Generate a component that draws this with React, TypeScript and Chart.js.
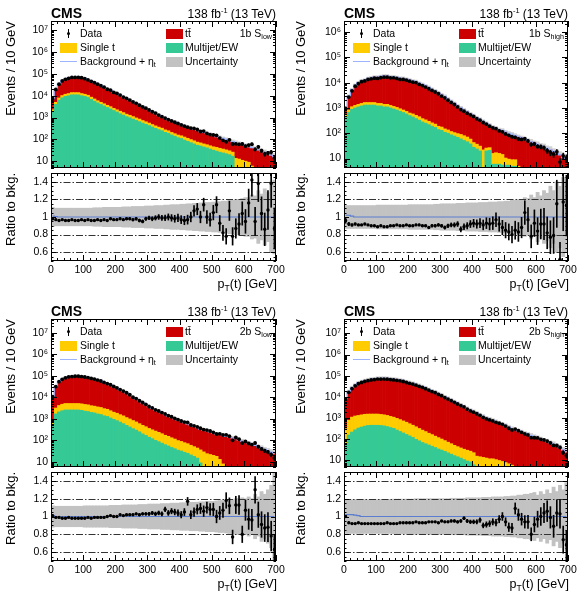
import React, { useEffect, useRef } from "react";
import { Chart, registerables } from "chart.js";

Chart.register(...registerables);

const FONT = '"Liberation Sans", Arial, Helvetica, sans-serif';
Chart.defaults.font.family = FONT;
Chart.defaults.color = "#000";

// ---------- categories / ticks ----------
const binCenters = [
  5, 15, 25, 35, 45, 55, 65, 75, 85, 95,
  105, 115, 125, 135, 145, 155, 165, 175, 185, 195,
  205, 215, 225, 235, 245, 255, 265, 275, 285, 295,
  305, 315, 325, 335, 345, 355, 365, 375, 385, 395,
  405, 415, 425, 435, 445, 455, 465, 475, 485, 495,
  505, 515, 525, 535, 545, 555, 565, 575, 585, 595,
  605, 615, 625, 635, 645, 655, 665, 675, 685, 695,
];
const xTickValues = [0, 100, 200, 300, 400, 500, 600, 700];
const logTickValues = [10, 100, 1000, 10000, 100000, 1000000, 10000000];
const ratioTickValues = [0.6, 0.8, 1, 1.2, 1.4];
const ratioDashValues = [0.6, 0.8, 1.2, 1.4];

// ---------- 1b S_low ----------
const multijetTL = [
  1800, 4000, 6300, 8100, 9300, 10000, 11000, 11000, 11000, 10000,
  9300, 8300, 6800, 5600, 4700, 4000, 3400, 2900, 2500, 2100,
  1800, 1500, 1300, 1100, 980, 850, 740, 650, 560, 490,
  430, 370, 320, 280, 250, 210, 190, 160, 140, 120,
  110, 93, 81, 71, 62, 54, 50, 45, 41, 36,
  32, 29, 26, 24, 22, 20, 17, 3.5, 2.5, null,
  null, null, null, null, null, null, null, null, null, null,
];
const singleTopTL = [
  470, 1000, 1600, 2100, 2400, 2600, 2900, 2900, 2900, 2600,
  2400, 2200, 1800, 1500, 1200, 1000, 880, 750, 650, 550,
  470, 450, 390, 330, 290, 260, 220, 200, 170, 150,
  130, 110, 96, 84, 75, 63, 57, 48, 42, 38,
  36, 35, 31, 27, 24, 21, 19, 17, 16, 15,
  14, 14, 13, 12, 11, 10, 9, 10, 10, 11,
  10, 9, 6, 4, 3, null, null, null, null, null,
];
const ttbarTL = [
  4900, 15000, 27000, 39000, 47000, 53000, 57000, 58000, 58000, 56000,
  51000, 44000, 39000, 34000, 29000, 25000, 21000, 17000, 15000, 12000,
  11000, 9000, 7200, 6200, 5200, 4300, 3600, 3000, 2500, 2100,
  1700, 1400, 1200, 940, 780, 680, 560, 500, 440, 380,
  330, 290, 260, 230, 210, 185, 160, 148, 133, 120,
  106, 92, 84, 74, 67, 59, 53, 58, 52, 48,
  42, 38, 36, 33, 30, 29, 25, 22, 19, 16,
];
const ratioTL = [
  0.98, 0.97, 0.96, 0.97, 0.96, 0.96, 0.97, 0.96, 0.96, 0.97,
  0.96, 0.97, 0.96, 0.96, 0.97, 0.96, 0.97, 0.96, 0.98, 0.97,
  0.97, 0.98, 0.97, 0.98, 0.98, 0.97, 0.98, 0.96, 0.95, 0.98,
  0.99, 0.98, 0.99, 1.0, 0.99, 0.99, 1.0, 0.99, 0.98, 0.99,
  0.97, 0.96, 0.97, 1.0, 1.07, 1.09, 1.0, 1.14, 1.0, 0.97,
  1.05, 1.14, 0.93, 0.82, 0.78, 1.07, 0.78, 0.87, 0.92, 1.04,
  0.95, 1.16, 1.42, 0.95, 1.38, 1.04, 0.86, 1.08, 1.38, 0.87,
];
const uncTL = [
  0.11, 0.1, 0.1, 0.1, 0.1, 0.1, 0.1, 0.1, 0.1, 0.1,
  0.1, 0.1, 0.1, 0.105, 0.105, 0.105, 0.11, 0.11, 0.11, 0.11,
  0.11, 0.11, 0.115, 0.115, 0.115, 0.12, 0.12, 0.12, 0.12, 0.125,
  0.125, 0.125, 0.13, 0.13, 0.13, 0.135, 0.135, 0.14, 0.14, 0.14,
  0.145, 0.145, 0.15, 0.15, 0.155, 0.155, 0.16, 0.16, 0.165, 0.165,
  0.17, 0.17, 0.175, 0.18, 0.18, 0.19, 0.19, 0.2, 0.2, 0.21,
  0.22, 0.22, 0.25, 0.24, 0.3, 0.26, 0.32, 0.28, 0.4, 0.42,
];
const etaTL = [
  1.01, 1.005, 1, 1, 1, 1, 1, 1, 1, 1,
  1, 1, 1, 1, 1, 1, 1, 1, 1, 1,
  1, 1, 1, 1, 1, 1, 1, 1, 1, 1,
  1, 1, 1, 1, 1, 1, 1, 1, 1, 1,
  1, 1, 1, 1, 1, 1, 1, 1, 1, 1,
  1, 1, 1, 1, 1, 1, 1, 1, 1, 1,
  1, 1, 1, 1, 1, 1, 1, 1, 1, 1,
];

// ---------- 1b S_high ----------
const multijetTR = [
  420, 660, 890, 1000, 1100, 1200, 1300, 1300, 1300, 1300,
  1200, 1200, 1100, 1100, 1000, 910, 830, 740, 660, 580,
  500, 440, 380, 330, 280, 250, 220, 190, 170, 140,
  130, 110, 100, 87, 78, 69, 60, 52, 46, 38,
  28, 24, 20, 3, 20, 21, 6, 6, 6, 5.5,
  5.5, 5.5, 5, 5, null, null, null, null, null, null,
  null, null, null, null, null, null, null, null, null, null,
];
const singleTopTR = [
  110, 170, 230, 260, 290, 310, 340, 340, 340, 340,
  310, 310, 290, 290, 260, 240, 220, 190, 170, 150,
  130, 140, 130, 120, 98, 88, 77, 67, 60, 49,
  46, 39, 35, 30, 28, 28, 30, 28, 25, 21,
  15, 13, 11, 19, 6, 6, 10, 11, 10, 9,
  5, 4, 4, 4, 5, 3, null, null, null, null,
  null, null, null, null, null, null, null, null, null, null,
];
const ttbarTR = [
  470, 2100, 4100, 6600, 8600, 10500, 11000, 13000, 14000, 15000,
  15000, 16000, 17000, 17000, 16000, 16000, 15000, 14000, 14000, 13000,
  12000, 11000, 10500, 9000, 8100, 7100, 6200, 5200, 4500, 3800,
  3100, 2700, 2100, 1700, 1400, 1100, 910, 750, 620, 520,
  450, 370, 320, 270, 220, 180, 160, 140, 120, 115,
  100, 90, 82, 72, 67, 62, 58, 51, 46, 41,
  36, 32, 29, 25, 22, 19, 16, 14, 11, 9.5,
];
const ratioTR = [
  0.96, 0.92, 0.91, 0.92, 0.91, 0.91, 0.92, 0.91, 0.9, 0.9,
  0.89, 0.9, 0.89, 0.89, 0.9, 0.9, 0.91, 0.9, 0.9, 0.91,
  0.9, 0.9, 0.91, 0.91, 0.9, 0.9, 0.88, 0.9, 0.9, 0.91,
  0.9, 0.88, 0.9, 0.91, 0.91, 0.92, 0.86, 0.89, 0.9, 0.92,
  0.93, 0.92, 0.93, 0.91, 0.93, 0.92, 0.93, 0.97, 0.92, 0.88,
  0.85, 0.83, 0.8, 0.85, 0.83, 0.88, 1.05, 0.97, 0.78, 0.93,
  0.84, 0.92, 0.92, 0.82, 0.77, 0.79, 1.15, 0.52, 1.17, 1.13,
];
const uncTR = [
  0.13, 0.13, 0.13, 0.13, 0.13, 0.13, 0.13, 0.13, 0.13, 0.13,
  0.135, 0.135, 0.135, 0.135, 0.135, 0.135, 0.135, 0.135, 0.135, 0.135,
  0.14, 0.14, 0.14, 0.14, 0.14, 0.14, 0.14, 0.14, 0.145, 0.145,
  0.15, 0.15, 0.15, 0.15, 0.15, 0.155, 0.155, 0.155, 0.16, 0.16,
  0.16, 0.16, 0.165, 0.165, 0.165, 0.17, 0.17, 0.17, 0.175, 0.175,
  0.18, 0.18, 0.19, 0.19, 0.2, 0.2, 0.22, 0.21, 0.25, 0.22,
  0.28, 0.24, 0.3, 0.27, 0.35, 0.3, 0.4, 0.35, 0.45, 0.4,
];
const etaTR = [
  1.02, 1.02, 1.01, 1, 1, 1, 1, 1, 1, 1,
  1, 1, 1, 1, 1, 1, 1, 1, 1, 1,
  1, 1, 1, 1, 1, 1, 1, 1, 1, 1,
  1, 1, 1, 1, 1, 1, 1, 1, 1, 1,
  1, 1, 1, 1, 1, 1, 1, 1, 1, 1,
  1, 1, 1, 1, 1, 1, 1, 1, 1, 1,
  1, 1, 1, 1, 1, 1, 1, 1, 1, 1,
];

// ---------- 2b S_low ----------
const multijetBL = [
  490, 1700, 2100, 2400, 2600, 2600, 2600, 2600, 2600, 2500,
  2300, 2200, 2000, 1900, 1700, 1600, 1400, 1300, 1100, 950,
  830, 710, 600, 500, 420, 350, 300, 250, 200, 170,
  140, 120, 100, 87, 74, 63, 55, 47, 41, 35,
  32, 28, 25, 21, 18, 15, 9, 3, null, null,
  null, null, null, null, null, null, null, null, null, null,
  null, null, null, null, null, null, null, null, null, null,
];
const singleTopBL = [
  340, 1500, 2100, 2400, 2600, 2600, 2600, 2600, 2600, 2500,
  2400, 2300, 2100, 2000, 1900, 1800, 1600, 1500, 1300, 1100,
  1000, 860, 780, 650, 570, 490, 420, 350, 300, 260,
  220, 190, 170, 150, 130, 110, 99, 85, 74, 63,
  57, 50, 45, 38, 33, 29, 27, 26, 24, 22,
  20, 18, 13, 8, 4, null, null, null, null, null,
  null, null, null, null, null, null, null, null, null, null,
];
const ttbarBL = [
  10000, 29000, 50000, 66000, 78000, 86000, 90000, 93000, 93000, 90000,
  86000, 80000, 74000, 67000, 61000, 55000, 47000, 41000, 36000, 30000,
  26000, 21000, 18000, 15000, 12000, 9200, 7800, 6300, 5100, 4200,
  3300, 2800, 2300, 2000, 1700, 1400, 1200, 1050, 890, 790,
  690, 600, 520, 450, 400, 350, 300, 270, 250, 230,
  200, 180, 180, 160, 150, 140, 130, 120, 100, 93,
  83, 74, 66, 58, 50, 44, 38, 33, 28, 24,
];
const ratioBL = [
  1.01, 0.99, 0.99, 0.98, 0.98, 0.99, 0.98, 0.98, 0.98, 0.98,
  0.98, 0.99, 0.98, 0.99, 0.99, 0.99, 0.99, 1.0, 1.01, 1.0,
  1.0, 1.02, 1.01, 1.02, 1.02, 1.02, 1.03, 1.02, 1.03, 1.03,
  1.03, 1.04, 1.03, 1.04, 1.03, 1.08, 1.04, 1.06, 1.05, 1.04,
  1.02, 1.05, 1.17, 1.02, 1.05, 1.08, 1.09, 1.06, 1.1, 1.08,
  1.08, 1.0, 1.04, 1.07, 1.18, 1.12, 0.77, 1.13, 1.13, 0.8,
  1.07, 0.97, 0.96, 1.3, 1.02, 0.91, 0.87, 0.88, 0.78, 0.63,
];
const uncBL = [
  0.12, 0.115, 0.115, 0.115, 0.115, 0.115, 0.115, 0.115, 0.115, 0.115,
  0.12, 0.12, 0.12, 0.12, 0.12, 0.12, 0.12, 0.12, 0.125, 0.125,
  0.125, 0.125, 0.13, 0.13, 0.13, 0.13, 0.13, 0.135, 0.135, 0.135,
  0.14, 0.14, 0.14, 0.14, 0.145, 0.145, 0.145, 0.15, 0.15, 0.15,
  0.155, 0.155, 0.155, 0.16, 0.16, 0.16, 0.165, 0.165, 0.17, 0.17,
  0.17, 0.175, 0.18, 0.18, 0.185, 0.19, 0.19, 0.2, 0.2, 0.21,
  0.2, 0.22, 0.2, 0.25, 0.22, 0.28, 0.25, 0.3, 0.35, 0.5,
];
const etaBL = [
  1.01, 1, 1, 1, 1, 1, 1, 1, 1, 1,
  1, 1, 1, 1, 1, 1, 1, 1, 1, 1,
  1, 1, 1, 1, 1, 1, 1, 1, 1, 1,
  1, 1, 1, 1, 1, 1, 1, 1, 1, 1,
  1, 1, 1, 1, 1, 1, 1, 1, 1, 1,
  1, 1, 1, 1, 1, 1, 1, 1, 1, 1,
  1, 1, 1, 1, 1, 1, 1, 1, 1, 1,
];

// ---------- 2b S_high ----------
const multijetBR = [
  65, 160, 220, 280, 340, 380, 420, 450, 460, 460,
  460, 450, 430, 400, 360, 330, 275, 234, 200, 170,
  145, 123, 100, 85, 71, 62, 54, 47, 41, 35,
  31, 27, 23, 20, 17, 15, 13, 11, 9.5, 8.5,
  6.3, null, null, null, null, null, null, null, null, null,
  null, null, null, null, null, null, null, null, null, null,
  null, null, null, null, null, null, null, null, null, null,
];
const singleTopBR = [
  250, 630, 900, 980, 1000, 1050, 1100, 1100, 1100, 1100,
  1100, 1050, 1000, 940, 850, 780, 700, 620, 540, 470,
  400, 340, 290, 240, 200, 170, 140, 120, 100, 85,
  72, 60, 50, 42, 35, 30, 26, 23, 21, 19,
  17, 16, 15, 14, 13, 12, 12, 11, 10, 9,
  8, 7, 6, 5, 4, null, null, null, null, null,
  null, null, null, null, null, null, null, null, null, null,
];
const ttbarBR = [
  7600, 17000, 26000, 35000, 44000, 51000, 57000, 63000, 67000, 70000,
  74000, 74500, 74500, 73000, 71000, 68000, 65000, 61000, 57000, 51000,
  47000, 43000, 38000, 34000, 30000, 26000, 22000, 19000, 17000, 14000,
  12000, 9900, 8400, 7000, 5800, 4900, 4100, 3400, 2800, 2300,
  2000, 1700, 1400, 1200, 990, 880, 770, 670, 580, 500,
  440, 370, 310, 275, 246, 220, 190, 170, 150, 130,
  120, 100, 89, 78, 68, 58, 49, 40, 32, 25,
];
const ratioBR = [
  1.0, 0.93, 0.92, 0.92, 0.93, 0.92, 0.92, 0.92, 0.92, 0.92,
  0.92, 0.92, 0.92, 0.93, 0.92, 0.92, 0.92, 0.93, 0.93, 0.93,
  0.93, 0.93, 0.94, 0.93, 0.93, 0.93, 0.94, 0.94, 0.94, 0.93,
  0.95, 0.94, 0.94, 0.95, 0.95, 0.94, 0.95, 0.98, 0.95, 0.94,
  0.94, 0.94, 0.96, 0.9, 0.91, 0.92, 0.94, 0.93, 0.97, 1.0,
  0.94, 0.88, 0.87, 1.09, 1.02, 0.97, 0.94, 0.94, 0.8, 0.91,
  0.97, 1.0, 1.04, 1.06, 0.99, 0.89, 1.04, 1.03, 0.74, 0.68,
];
const uncBR = [
  0.19, 0.19, 0.19, 0.19, 0.19, 0.19, 0.19, 0.19, 0.19, 0.19,
  0.19, 0.19, 0.19, 0.19, 0.19, 0.195, 0.195, 0.195, 0.195, 0.195,
  0.195, 0.195, 0.2, 0.2, 0.2, 0.2, 0.2, 0.2, 0.2, 0.2,
  0.2, 0.2, 0.2, 0.205, 0.205, 0.205, 0.205, 0.205, 0.21, 0.21,
  0.21, 0.21, 0.21, 0.215, 0.215, 0.215, 0.22, 0.22, 0.22, 0.22,
  0.225, 0.225, 0.23, 0.23, 0.24, 0.24, 0.25, 0.25, 0.26, 0.27,
  0.24, 0.28, 0.25, 0.3, 0.26, 0.33, 0.28, 0.35, 0.3, 0.38,
];
const etaBR = [
  1.02, 1.02, 1.02, 1.015, 1.01, 1, 1, 1, 1, 1,
  1, 1, 1, 1, 1, 1, 1, 1, 1, 1,
  1, 1, 1, 1, 1, 1, 1, 1, 1, 1,
  1, 1, 1, 1, 1, 1, 1, 1, 1, 1,
  1, 1, 1, 1, 1, 1, 1, 1, 1, 1,
  1, 1, 1, 1, 1, 1, 1, 1, 1, 1,
  1, 1, 1, 1, 1, 1, 1, 1, 1, 1,
];

// ---------- colours ----------
const C_TT = "#cc0000";
const C_ST = "#ffcc00";
const C_MJ = "#35c995";
const C_UNC = "#c2c2c2";
const C_UNC_MAIN = "#d2d2d2";
const C_ETA = "#9db5ff";
const C_ETA_RATIO = "#5a7dd0";

type Num = number | null;
type Panel = {
  L: number; R: number; T: number; MB: number; RT: number; RB: number; CL: number;
  yMin: number; yMax: number;
  multijet: Num[]; single: Num[]; ttbar: Num[]; ratio: number[]; unc: number[]; eta: number[];
  tag: string; sub: string;
};

const panels: Panel[] = [
  { L: 51, R: 276, T: 21, MB: 172, RT: 173, RB: 261, CL: 0, yMin: 4.88, yMax: 2.65e7,
    multijet: multijetTL, single: singleTopTL, ttbar: ttbarTL, ratio: ratioTL, unc: uncTL, eta: etaTL, tag: "1b", sub: "low" },
  { L: 344, R: 568, T: 21, MB: 172, RT: 173, RB: 261, CL: 290, yMin: 4.24, yMax: 2.72e6,
    multijet: multijetTR, single: singleTopTR, ttbar: ttbarTR, ratio: ratioTR, unc: uncTR, eta: etaTR, tag: "1b", sub: "high" },
  { L: 51, R: 276, T: 319, MB: 471, RT: 472, RB: 561, CL: 0, yMin: 5.75, yMax: 4.45e7,
    multijet: multijetBL, single: singleTopBL, ttbar: ttbarBL, ratio: ratioBL, unc: uncBL, eta: etaBL, tag: "2b", sub: "low" },
  { L: 344, R: 568, T: 319, MB: 471, RT: 472, RB: 561, CL: 290, yMin: 4.92, yMax: 4.8e7,
    multijet: multijetBR, single: singleTopBR, ttbar: ttbarBR, ratio: ratioBR, unc: uncBR, eta: etaBR, tag: "2b", sub: "high" },
];

const SUP: Record<string, string> = { "0": "⁰", "1": "¹", "2": "²", "3": "³", "4": "⁴", "5": "⁵", "6": "⁶", "7": "⁷", "8": "⁸", "9": "⁹" };
function logLabel(v: number): string {
  const e = Math.round(Math.log10(v));
  if (e === 1) return "10";
  return "10" + String(e).split("").map((c) => SUP[c]).join("");
}

const framePlugin = {
  id: "frame",
  afterDatasetDraw(chart: any, args: any, opts: any) {
    if (!opts || opts.dashAfter !== args.index) return;
    const { ctx, chartArea: a, scales } = chart;
    ctx.save();
    ctx.strokeStyle = "#333";
    ctx.lineWidth = 1;
    ctx.setLineDash([7, 2, 1.5, 2]);
    ctx.beginPath();
    for (const v of ratioDashValues) {
      const py = Math.round(scales.y.getPixelForValue(v)) + 0.5;
      ctx.moveTo(a.left, py);
      ctx.lineTo(a.right, py);
    }
    ctx.stroke();
    ctx.restore();
  },
  afterDatasetsDraw(chart: any, _args: any, opts: any) {
    const { ctx, chartArea: a, scales } = chart;
    const xs = scales.x;
    const ys = scales.y;
    ctx.save();
    ctx.strokeStyle = "#000";
    ctx.lineWidth = 1;
    ctx.setLineDash([]);
    ctx.beginPath();
    for (let v = 0; v <= 700; v += 20) {
      const px = Math.round(xs.getPixelForValue(v)) + 0.5;
      const len = v % 100 === 0 ? opts.xMajor : opts.xMinor;
      ctx.moveTo(px, a.bottom);
      ctx.lineTo(px, a.bottom - len);
      ctx.moveTo(px, a.top);
      ctx.lineTo(px, a.top + len);
    }
    const yt: [number, boolean][] = [];
    if (opts.log) {
      for (let e = 0; e < 9; e++) for (let m = 1; m < 10; m++) yt.push([m * Math.pow(10, e), m === 1]);
    } else {
      for (let k = 0; k <= 20; k++) {
        const v = 0.5 + k * 0.05;
        const q = (v - 0.6) / 0.2;
        yt.push([v, Math.abs(q - Math.round(q)) < 1e-6]);
      }
    }
    for (const [v, major] of yt) {
      if (v < ys.min - 1e-9 || v > ys.max + 1e-9) continue;
      const py = Math.round(ys.getPixelForValue(v)) + 0.5;
      const len = major ? opts.yMajor : opts.yMinor;
      ctx.moveTo(a.left, py);
      ctx.lineTo(a.left + len, py);
      ctx.moveTo(a.right, py);
      ctx.lineTo(a.right - len, py);
    }
    ctx.stroke();
    ctx.strokeRect(Math.round(a.left) + 0.5, Math.round(a.top) + 0.5, Math.round(a.right - a.left) - 1, Math.round(a.bottom - a.top) - 1);
    ctx.restore();
  },
};

const barBase = { type: "bar" as const, grouped: false, barPercentage: 1, categoryPercentage: 1, borderWidth: 0 };

function totals(p: Panel): number[] {
  return binCenters.map((_, i) => (p.ttbar[i] || 0) + (p.single[i] || 0) + (p.multijet[i] || 0));
}

function mainBox(p: Panel) {
  const top = p.T - 8;
  return { left: p.CL, top, w: p.R + 10 - p.CL, h: p.MB - top };
}
function ratioBox(p: Panel) {
  const top = p.RT - 4;
  return { left: p.CL, top, w: p.R + 10 - p.CL, h: p.RB + 22 - top };
}

function mainConfig(p: Panel): any {
  const tot = totals(p);
  const data = tot.map((t, i) => t * p.ratio[i]);
  const greenTop = binCenters.map((x, i) => ({ x, y: p.multijet[i] }));
  const yellowTop = binCenters.map((x, i) => ({
    x,
    y: p.multijet[i] == null && p.single[i] == null ? null : (p.multijet[i] || 0) + (p.single[i] || 0),
  }));
  return {
    type: "bar",
    data: {
      datasets: [
        { ...barBase, label: "Uncertainty", data: binCenters.map((x, i) => ({ x, y: [tot[i] * (1 - p.unc[i]), tot[i] * (1 + p.unc[i])] })), backgroundColor: C_UNC_MAIN, order: 20 },
        { ...barBase, label: "tt", data: binCenters.map((x, i) => ({ x, y: tot[i] })), backgroundColor: C_TT, order: 19 },
        { ...barBase, label: "Single t", data: yellowTop, backgroundColor: C_ST, order: 18 },
        { ...barBase, label: "Multijet/EW", data: greenTop, backgroundColor: C_MJ, order: 17 },
        { type: "line", label: "Background + eta_t", data: binCenters.map((x, i) => ({ x, y: tot[i] * p.eta[i] })), stepped: "middle", borderColor: C_ETA, borderWidth: 1.3, pointRadius: 0, order: 5 },
        { ...barBase, label: "Data err", data: binCenters.map((x, i) => ({ x, y: [data[i] - Math.sqrt(data[i]), data[i] + Math.sqrt(data[i])] })), barThickness: 1, backgroundColor: "#000", order: 2 },
        { type: "line", label: "Data", data: binCenters.map((x, i) => ({ x, y: data[i] })), showLine: false, pointRadius: 1.9, pointBackgroundColor: "#000", pointBorderWidth: 0, order: 1 },
      ],
    },
    options: {
      responsive: false,
      animation: false,
      events: [],
      layout: { padding: { left: 0, top: 8, right: 10, bottom: 0 } },
      plugins: {
        legend: { display: false },
        tooltip: { enabled: false },
        frame: { log: true, xMajor: 6, xMinor: 3, yMajor: 6, yMinor: 3, dashAfter: -1 },
      },
      scales: {
        x: {
          type: "linear", min: 0, max: 700, offset: false,
          grid: { display: false, drawTicks: false }, border: { display: false },
          ticks: { display: false },
          afterBuildTicks: (s: any) => { s.ticks = xTickValues.map((v) => ({ value: v })); },
          afterFit: (s: any) => { s.height = 0; s.paddingLeft = 0; s.paddingRight = 0; },
        },
        y: {
          type: "logarithmic", min: p.yMin, max: p.yMax,
          grid: { display: false, drawTicks: false }, border: { display: false },
          ticks: { autoSkip: false, padding: 3, color: "#000", font: { family: FONT, size: 10.5 }, callback: (v: any) => logLabel(Number(v)) },
          afterBuildTicks: (s: any) => { s.ticks = logTickValues.filter((v) => v >= p.yMin && v <= p.yMax).map((v) => ({ value: v, major: true })); },
          afterFit: (s: any) => { s.width = p.L - p.CL; s.paddingTop = 0; s.paddingBottom = 0; },
          title: { display: true, text: "Events / 10 GeV", align: "end", color: "#000", font: { family: FONT, size: 13 }, padding: { top: 4, bottom: 0 } },
        },
      },
    },
    plugins: [framePlugin],
  };
}

function ratioConfig(p: Panel): any {
  const tot = totals(p);
  const err = binCenters.map((_, i) => Math.sqrt(tot[i] * p.ratio[i]) / tot[i]);
  return {
    type: "bar",
    data: {
      datasets: [
        { ...barBase, label: "Uncertainty", data: binCenters.map((x, i) => ({ x, y: [1 - p.unc[i], 1 + p.unc[i]] })), backgroundColor: C_UNC, order: 10 },
        { type: "line", label: "Background + eta_t", data: binCenters.map((x, i) => ({ x, y: p.eta[i] })), stepped: "middle", borderColor: C_ETA_RATIO, borderWidth: 1.2, pointRadius: 0, order: 5 },
        { ...barBase, label: "Data err", data: binCenters.map((x, i) => ({ x, y: [p.ratio[i] - err[i], p.ratio[i] + err[i]] })), barThickness: 1, backgroundColor: "#000", order: 2 },
        { type: "line", label: "Data", data: binCenters.map((x, i) => ({ x, y: p.ratio[i] })), showLine: false, pointRadius: 1.7, pointBackgroundColor: "#000", pointBorderWidth: 0, order: 1 },
      ],
    },
    options: {
      responsive: false,
      animation: false,
      events: [],
      layout: { padding: { left: 0, top: 4, right: 10, bottom: 0 } },
      plugins: {
        legend: { display: false },
        tooltip: { enabled: false },
        frame: { log: false, xMajor: 6, xMinor: 3, yMajor: 5, yMinor: 2.5, dashAfter: 0 },
      },
      scales: {
        x: {
          type: "linear", min: 0, max: 700, offset: false,
          grid: { display: false, drawTicks: false }, border: { display: false },
          ticks: { autoSkip: false, maxRotation: 0, padding: 3, color: "#000", font: { family: FONT, size: 10.5 }, callback: (v: any) => String(v) },
          afterBuildTicks: (s: any) => { s.ticks = xTickValues.map((v) => ({ value: v })); },
          afterFit: (s: any) => { s.height = 22; s.paddingLeft = 0; s.paddingRight = 0; },
        },
        y: {
          type: "linear", min: 0.5, max: 1.5,
          grid: { display: false, drawTicks: false }, border: { display: false },
          ticks: { autoSkip: false, padding: 3, color: "#000", font: { family: FONT, size: 10.5 }, callback: (v: any) => String(v) },
          afterBuildTicks: (s: any) => { s.ticks = ratioTickValues.map((v) => ({ value: v })); },
          afterFit: (s: any) => { s.width = p.L - p.CL; s.paddingTop = 0; s.paddingBottom = 0; },
          title: { display: true, text: "Ratio to bkg.", align: "end", color: "#000", font: { family: FONT, size: 13 }, padding: { top: 4, bottom: 0 } },
        },
      },
    },
    plugins: [framePlugin],
  };
}

const subStyle: React.CSSProperties = { fontSize: "0.68em", verticalAlign: "-0.3em", lineHeight: 0 };

function PanelText({ p }: { p: Panel }) {
  const fs = 10.5;
  const rows = [p.T + 12.5, p.T + 26.5, p.T + 40.5];
  const text = (x: number, y: number, content: React.ReactNode, key: string) => (
    <div key={key} style={{ position: "absolute", left: x, top: y - fs * 0.58, fontSize: fs, lineHeight: `${fs * 1.15}px`, whiteSpace: "nowrap" }}>{content}</div>
  );
  const box = (x: number, y: number, color: string, key: string) => (
    <div key={key} style={{ position: "absolute", left: x, top: y - 5, width: 17, height: 10, background: color }} />
  );
  const L = p.L;
  return (
    <>
      <div style={{ position: "absolute", left: p.L, top: p.T - 15, fontSize: 14, lineHeight: "14px", fontWeight: "bold" }}>CMS</div>
      <div style={{ position: "absolute", right: 580 - p.R, top: p.T - 13.5, fontSize: 12, lineHeight: "12px", whiteSpace: "nowrap" }}>
        138 fb<span style={{ fontSize: "0.62em", position: "relative", top: "-0.55em" }}>-1</span> (13 TeV)
      </div>
      <div style={{ position: "absolute", left: L + 17, top: rows[0] - 4.5, width: 1, height: 9, background: "#000" }} />
      <div style={{ position: "absolute", left: L + 15.7, top: rows[0] - 1.5, width: 3.4, height: 3.4, borderRadius: 2, background: "#000" }} />
      {text(L + 29, rows[0], "Data", "d")}
      {box(L + 9, rows[1], C_ST, "sb")}
      {text(L + 29, rows[1], "Single t", "s")}
      <div style={{ position: "absolute", left: L + 9, top: rows[2] - 0.75, width: 17, height: 1.5, background: C_ETA }} />
      {text(L + 29, rows[2], <>Background + η<span style={subStyle}>t</span></>, "b")}
      {box(L + 115, rows[0], C_TT, "tb")}
      {text(L + 134, rows[0], "tt\u0304", "t")}
      {box(L + 115, rows[1], C_MJ, "mb")}
      {text(L + 134, rows[1], "Multijet/EW", "m")}
      {box(L + 115, rows[2], C_UNC, "ub")}
      {text(L + 134, rows[2], "Uncertainty", "u")}
      <div style={{ position: "absolute", right: 580 - (p.R - 4), top: rows[0] - fs * 0.58, fontSize: fs, lineHeight: `${fs * 1.15}px`, whiteSpace: "nowrap" }}>
        {p.tag} S<span style={subStyle}>{p.sub}</span>
      </div>
      <div style={{ position: "absolute", right: 580 - (p.R + 1), top: p.RB + 16, fontSize: 12.5, lineHeight: "14px", whiteSpace: "nowrap" }}>
        p<span style={subStyle}>T</span>(t) [GeV]
      </div>
    </>
  );
}

export default function App() {
  const refs = useRef<(HTMLCanvasElement | null)[]>([]);
  useEffect(() => {
    const charts: Chart[] = [];
    panels.forEach((p, i) => {
      const mc = refs.current[2 * i];
      const rc = refs.current[2 * i + 1];
      if (mc) charts.push(new Chart(mc, mainConfig(p)));
      if (rc) charts.push(new Chart(rc, ratioConfig(p)));
    });
    return () => charts.forEach((c) => c.destroy());
  }, []);

  return (
    <div style={{ position: "absolute", left: 0, top: 0, width: 580, height: 599, overflow: "hidden", background: "#fff", fontFamily: FONT, color: "#000" }}>
      {panels.map((p, i) => {
        const mb = mainBox(p);
        const rb = ratioBox(p);
        return (
          <React.Fragment key={i}>
            <canvas ref={(el) => { refs.current[2 * i] = el; }} width={mb.w} height={mb.h}
              style={{ position: "absolute", left: mb.left, top: mb.top, width: mb.w, height: mb.h }} />
            <canvas ref={(el) => { refs.current[2 * i + 1] = el; }} width={rb.w} height={rb.h}
              style={{ position: "absolute", left: rb.left, top: rb.top, width: rb.w, height: rb.h }} />
            <PanelText p={p} />
          </React.Fragment>
        );
      })}
    </div>
  );
}
